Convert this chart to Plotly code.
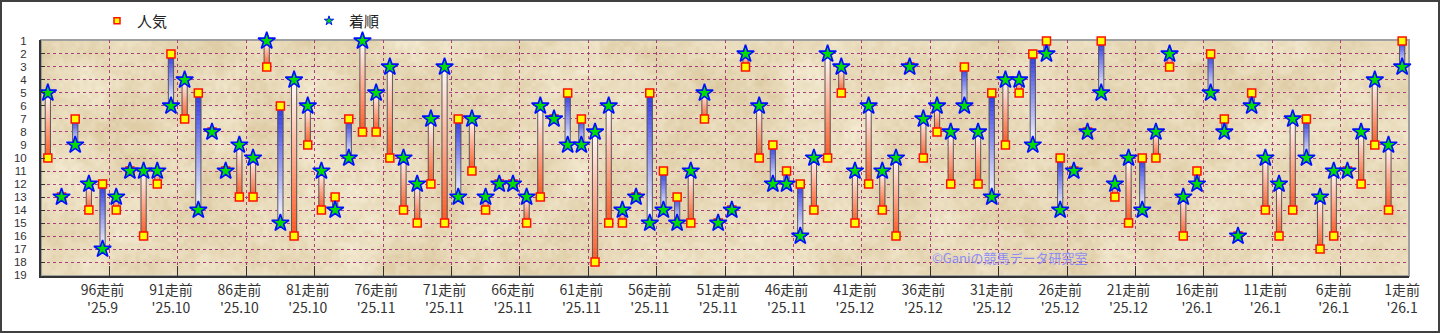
import base64
import struct
import zlib

import numpy as np
import plotly.graph_objects as go

# 100走前 .. 1走前
race_labels = [f"{n}走前" for n in range(100, 0, -1)]

# 人気 (popularity rank) per race, oldest first
ninki = [10, 13, 7, 14, 12, 14, 11, 16, 12, 2,
         7, 5, 8, 11, 13, 13, 3, 6, 16, 9,
         14, 13, 7, 8, 8, 10, 14, 15, 12, 15,
         7, 11, 14, 12, 12, 15, 13, 7, 5, 7,
         18, 15, 15, 13, 5, 11, 13, 15, 7, 15,
         14, 3, 10, 9, 11, 12, 14, 10, 5, 15,
         12, 14, 16, 3, 10, 8, 12, 3, 12, 5,
         9, 5, 2, 1, 10, 11, 8, 1, 13, 15,
         10, 10, 3, 16, 11, 2, 7, 16, 5, 14,
         16, 14, 7, 17, 16, 11, 12, 9, 14, 1]

# 着順 (finishing position) per race, oldest first
chakujun = [5, 13, 9, 12, 17, 13, 11, 11, 11, 6,
            4, 14, 8, 11, 9, 10, 1, 15, 4, 6,
            11, 14, 10, 1, 5, 3, 10, 12, 7, 3,
            13, 7, 13, 12, 12, 13, 6, 7, 9, 9,
            8, 6, 14, 13, 15, 14, 15, 11, 5, 15,
            14, 2, 6, 12, 12, 16, 10, 2, 3, 11,
            6, 11, 10, 3, 7, 6, 8, 6, 8, 13,
            4, 4, 9, 2, 14, 11, 8, 5, 12, 10,
            14, 8, 2, 13, 12, 5, 8, 16, 6, 10,
            12, 7, 10, 13, 11, 11, 8, 4, 9, 3]

# axis label shown every five races
tick_index = list(range(4, 100, 5))
tick_month = ["'25.9", "'25.10", "'25.10", "'25.10", "'25.11", "'25.11", "'25.11",
              "'25.11", "'25.11", "'25.11", "'25.11", "'25.12", "'25.12", "'25.12",
              "'25.12", "'25.12", "'26.1", "'26.1", "'26.1", "'26.1"]
tick_text = [f"{race_labels[i]}<br>{m}" for i, m in zip(tick_index, tick_month)]

FONT = "Noto Sans CJK JP"
W, H = 1440, 333
ML, MR, MT, MB = 41, 31, 40, 57
PW, PH = W - ML - MR, H - MT - MB

BLUE = np.array([40, 50, 230])
RED = np.array([255, 85, 30])
WHITE = np.array([255, 255, 255])
BAR_W = 0.38


def parchment(w, h, seed=11):
    """Mottled parchment texture for the plotting area, as a PNG data URI."""
    rng = np.random.default_rng(seed)

    def layer(s):
        g = rng.random((h // s + 2, w // s + 2))
        ys, xs = np.arange(h) / s, np.arange(w) / s
        y0, x0 = ys.astype(int), xs.astype(int)
        fy, fx = (ys - y0)[:, None], (xs - x0)[None, :]
        fy, fx = fy * fy * (3 - 2 * fy), fx * fx * (3 - 2 * fx)
        a, b = g[y0][:, x0], g[y0][:, x0 + 1]
        c, d = g[y0 + 1][:, x0], g[y0 + 1][:, x0 + 1]
        return (a * (1 - fx) + b * fx) * (1 - fy) + (c * (1 - fx) + d * fx) * fy

    n = 0.45 * layer(45) + 0.3 * layer(15) + 0.25 * layer(4)
    n = (n - n.min()) / (n.max() - n.min())
    light = np.array([245, 236, 212], float)
    dark = np.array([220, 201, 160], float)
    img = (dark + (light - dark) * n[..., None]).clip(0, 255).astype(np.uint8)

    raw = b"".join(b"\x00" + img[r].tobytes() for r in range(h))

    def chunk(tag, data):
        body = tag + data
        return struct.pack(">I", len(data)) + body + struct.pack(">I", zlib.crc32(body) & 0xFFFFFFFF)

    png = (b"\x89PNG\r\n\x1a\n"
           + chunk(b"IHDR", struct.pack(">IIBBBBB", w, h, 8, 2, 0, 0, 0))
           + chunk(b"IDAT", zlib.compress(raw, 9))
           + chunk(b"IEND", b""))
    return "data:image/png;base64," + base64.b64encode(png).decode()


# gradient bars: split each bar into thin slices, white at the 着順 end
seg_x, seg_base, seg_len, seg_col = [], [], [], []
out_x, out_base, out_len = [], [], []
for i, (p, f) in enumerate(zip(ninki, chakujun)):
    if p == f:
        continue
    lo, hi = min(p, f), max(p, f)
    end_col = BLUE if p < f else RED
    n = int((hi - lo) * 10)
    edges = np.linspace(lo, hi, n + 1)
    for k in range(n):
        mid = 0.5 * (edges[k] + edges[k + 1])
        t = abs(mid - f) / (hi - lo)
        c = WHITE * (1 - t) + end_col * t
        seg_x.append(i)
        seg_base.append(edges[k])
        seg_len.append(edges[k + 1] - edges[k])
        seg_col.append(f"rgb({int(c[0])},{int(c[1])},{int(c[2])})")
    out_x.append(i)
    out_base.append(lo)
    out_len.append(hi - lo)

fig = go.Figure()
fig.add_trace(go.Bar(
    x=seg_x, y=seg_len, base=seg_base, width=BAR_W,
    marker=dict(color=seg_col, line=dict(color=seg_col, width=0.6)),
    showlegend=False, hoverinfo="skip"))
fig.add_trace(go.Bar(
    x=out_x, y=out_len, base=out_base, width=BAR_W,
    marker=dict(color="rgba(0,0,0,0)", line=dict(color="#5a5a5a", width=1)),
    showlegend=False, hoverinfo="skip"))

x_idx = list(range(len(ninki)))
fig.add_trace(go.Scatter(
    x=x_idx, y=ninki, mode="markers", name="人気", showlegend=False,
    marker=dict(symbol="square", size=8, color="#FFFF00",
                line=dict(color="#FF1000", width=1.5)),
    cliponaxis=False))
fig.add_trace(go.Scatter(
    x=x_idx, y=chakujun, mode="markers", name="着順", showlegend=False,
    marker=dict(symbol="star", size=13, color="#00DD00",
                line=dict(color="#0010FF", width=1.6)),
    cliponaxis=False))

# legend entries
fig.add_trace(go.Scatter(
    x=[None], y=[None], mode="markers", name="人気",
    marker=dict(symbol="square", size=6, color="#FFFF00",
                line=dict(color="#FF1000", width=1.5))))
fig.add_trace(go.Scatter(
    x=[None], y=[None], mode="markers", name="着順",
    marker=dict(symbol="star", size=7, color="#00DD00",
                line=dict(color="#0010FF", width=1))))


def px_x(p):
    return (p - ML) / PW


def px_y(p):
    return (H - MB - p) / PH


fig.update_layout(
    width=W, height=H,
    margin=dict(l=ML, r=MR, t=MT, b=MB, autoexpand=False),
    paper_bgcolor="white",
    plot_bgcolor="#EADCB9",
    barmode="overlay",
    font=dict(family=FONT, size=14, color="#333333"),
    legend=dict(orientation="h", x=px_x(97), y=px_y(21),
                xanchor="left", yanchor="middle",
                entrywidth=167, entrywidthmode="pixels",
                font=dict(family=FONT, size=15, color="#222222"),
                bgcolor="rgba(0,0,0,0)"),
    xaxis=dict(
        range=[-0.5, 99.5], tickmode="array", tickvals=tick_index, ticktext=tick_text,
        showgrid=False, showline=True, linecolor="#333333", linewidth=2,
        ticks="", zeroline=False,
        tickfont=dict(family=FONT, size=14, color="#333333"),
        minor=dict(tickmode="array", tickvals=[i + 0.5 for i in tick_index[:-1]],
                   showgrid=True, gridcolor="#A8407A", griddash="dot", gridwidth=1,
                   ticks="inside", ticklen=10, tickcolor="#333333", tickwidth=1),
    ),
    yaxis=dict(
        range=[19.07, 0.93], tickmode="array", tickvals=list(range(1, 20)),
        showgrid=True, gridcolor="#A8407A", griddash="dot", gridwidth=1,
        showline=True, linecolor="#333333", linewidth=2, zeroline=False,
        ticks="inside", ticklen=4, tickcolor="#333333",
        ticklabelstandoff=10,
        tickfont=dict(family="Liberation Sans", size=11.5, color="#333333"),
    ),
    images=[dict(source=parchment(PW, PH), xref="paper", yref="paper",
                 x=0, y=1, sizex=1, sizey=1, sizing="stretch",
                 xanchor="left", yanchor="top", layer="below")],
    shapes=[
        dict(type="rect", xref="paper", yref="paper", x0=0, x1=1, y0=0, y1=1,
             line=dict(color="#A0A0A0", width=2), layer="below"),
        dict(type="rect", xref="paper", yref="paper",
             x0=px_x(1), x1=px_x(W - 1), y0=px_y(H - 1), y1=px_y(1),
             line=dict(color="#404040", width=2), layer="above"),
    ],
    annotations=[
        dict(text="©Ganiの競馬データ研究室", xref="paper", yref="paper",
             x=px_x(930), y=px_y(257), xanchor="left", yanchor="middle",
             showarrow=False, font=dict(family=FONT, size=13, color="#7F7FFF"),
             opacity=0.85),
    ],
)

fig.write_html("out.html")
